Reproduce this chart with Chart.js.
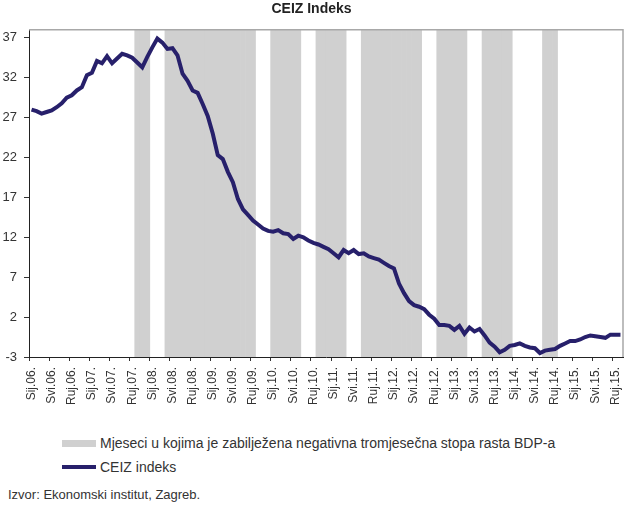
<!DOCTYPE html>
<html lang="hr">
<head>
    <meta charset="UTF-8">
    <title>CEIZ Indeks</title>
    <script src="https://cdn.jsdelivr.net/npm/chart.js@4/dist/chart.umd.min.js"></script>
    <style>
        body {
            margin: 0;
            width: 625px;
            height: 507px;
            background: #fff;
            font-family: "Liberation Sans Narrow", "Liberation Sans", Arial, sans-serif;
            color: #333;
            position: relative;
        }
        #chart {
            position: absolute;
            left: 0;
            top: 0;
        }
        .legend-row {
            position: absolute;
            left: 62px;
            height: 18px;
            font-size: 14px;
            line-height: 18px;
            white-space: nowrap;
        }
        .swatch {
            position: absolute;
            left: 0;
            width: 34px;
        }
        .legend-row span.txt {
            position: absolute;
            left: 38px;
            top: 0;
        }
        #source {
            position: absolute;
            left: 8px;
            top: 487px;
            font-size: 13px;
            line-height: 16px;
            white-space: nowrap;
        }
    </style>
</head>
<body>
    <canvas id="chart" width="625" height="410"></canvas>

    <div class="legend-row" style="top:434px">
        <div class="swatch" style="top:6px;height:7px;background:#d0d0d0"></div>
        <span class="txt">Mjeseci u kojima je zabilježena negativna tromjesečna stopa rasta BDP-a</span>
    </div>
    <div class="legend-row" style="top:458px">
        <div class="swatch" style="top:7px;height:4px;background:#27206b"></div>
        <span class="txt">CEIZ indeks</span>
    </div>
    <div id="source">Izvor: Ekonomski institut, Zagreb.</div>

    <script>
        // month names used in the axis labels (Sij.06. ... Lis.15.)
        const monthNames = ['Sij', 'Velj', 'Ožu', 'Tra', 'Svi', 'Lip', 'Srp', 'Kol', 'Ruj', 'Lis', 'Stu', 'Pro'];
        const years = ['06', '07', '08', '09', '10', '11', '12', '13', '14', '15'];
        const lastMonthOfLastYear = 10; // data ends in October 2015

        const months = [];
        years.forEach((yy, yi) => {
            monthNames.forEach((m, mi) => {
                if (yi === years.length - 1 && mi >= lastMonthOfLastYear) return;
                months.push(m + '.' + yy + '.');
            });
        });

        // CEIZ index, monthly
        const ceizIndex = [
            28.0, 27.8, 27.5, 27.7, 27.9, 28.3, 28.8, 29.5, 29.8, 30.4,
            30.8, 32.3, 32.6, 34.1, 33.8, 34.7, 33.8, 34.4, 35.0, 34.8,
            34.5, 33.9, 33.3, 34.6, 35.8, 36.9, 36.4, 35.6, 35.7, 34.8,
            32.5, 31.6, 30.4, 30.1, 28.7, 27.2, 25.0, 22.3, 21.8, 20.2,
            18.9, 16.8, 15.5, 14.8, 14.1, 13.6, 13.1, 12.8, 12.7, 12.9,
            12.5, 12.4, 11.8, 12.2, 12.0, 11.6, 11.3, 11.1, 10.8, 10.5,
            10.0, 9.5, 10.4, 10.0, 10.4, 9.9, 10.0, 9.6, 9.4, 9.2,
            8.8, 8.4, 8.1, 6.2, 5.0, 4.0, 3.5, 3.3, 3.0, 2.3,
            1.8, 1.0, 1.0, 0.9, 0.4, 0.9, -0.1, 0.7, 0.2, 0.5,
            -0.3, -1.2, -1.7, -2.4, -2.1, -1.6, -1.5, -1.3, -1.6, -1.8,
            -1.9, -2.5, -2.2, -2.1, -2.0, -1.6, -1.3, -1.0, -1.0, -0.8,
            -0.5, -0.3, -0.4, -0.5, -0.6, -0.2, -0.2, -0.2
        ];

        // periods with negative quarterly GDP growth (first and last month)
        const negativeGdpPeriods = [
            ['Lis.07.', 'Pro.07.'],
            ['Tra.08.', 'Ruj.09.'],
            ['Sij.10.', 'Lip.10.'],
            ['Lis.10.', 'Ožu.11.'],
            ['Srp.11.', 'Lip.12.'],
            ['Lis.12.', 'Ožu.13.'],
            ['Srp.13.', 'Pro.13.'],
            ['Srp.14.', 'Ruj.14.']
        ];

        const yTicks = [-3, 2, 7, 12, 17, 22, 27, 32, 37];
        const yMin = -3;
        const yMax = 38;

        // full-height bars for shaded months
        const shadeData = months.map((m, i) => {
            const inside = negativeGdpPeriods.some(p => i >= months.indexOf(p[0]) && i <= months.indexOf(p[1]));
            return inside ? [yMin, yMax] : null;
        });

        const frameLines = {
            id: 'frameLines',
            afterDatasetsDraw(chart) {
                const { ctx, chartArea: a } = chart;
                ctx.save();
                ctx.strokeStyle = '#a8a8a8';
                ctx.lineWidth = 1.5;
                ctx.beginPath();
                ctx.moveTo(a.left, a.top);
                ctx.lineTo(a.right, a.top);
                ctx.lineTo(a.right, a.bottom);
                ctx.stroke();
                ctx.restore();
            }
        };

        new Chart(document.getElementById('chart'), {
            type: 'bar',
            data: {
                labels: months,
                datasets: [
                    {
                        type: 'line',
                        label: 'CEIZ indeks',
                        data: ceizIndex,
                        borderColor: '#27206b',
                        borderWidth: 4,
                        pointRadius: 0,
                        tension: 0,
                        order: 0
                    },
                    {
                        label: 'Mjeseci u kojima je zabilježena negativna tromjesečna stopa rasta BDP-a',
                        data: shadeData,
                        backgroundColor: '#d0d0d0',
                        borderWidth: 0,
                        barPercentage: 1,
                        categoryPercentage: 1,
                        order: 1
                    }
                ]
            },
            options: {
                responsive: false,
                animation: false,
                layout: { padding: { left: 0, right: 2, top: 0, bottom: 0 } },
                plugins: {
                    legend: { display: false },
                    tooltip: { enabled: false },
                    title: {
                        display: true,
                        text: 'CEIZ Indeks',
                        color: '#222',
                        font: { family: '"Liberation Sans Narrow", "Liberation Sans", Arial', size: 14, weight: 'bold' },
                        padding: { top: 1, bottom: 12 }
                    }
                },
                scales: {
                    x: {
                        offset: true,
                        grid: {
                            offset: true,
                            drawOnChartArea: false,
                            tickLength: 4,
                            tickColor: ctx => (ctx.index % 4 === 0 ? '#333' : 'rgba(0,0,0,0)')
                        },
                        border: { display: true, color: '#222', width: 1 },
                        ticks: {
                            autoSkip: false,
                            minRotation: 90,
                            maxRotation: 90,
                            padding: 6,
                            color: '#333',
                            font: { family: '"Liberation Sans", Arial', size: 12 },
                            callback: function (value, index) {
                                return index % 4 === 0 ? this.getLabelForValue(value) : '';
                            }
                        },
                        afterFit(scale) {
                            scale.height = 53;
                            scale.paddingLeft = 0;
                            scale.paddingRight = 0;
                        }
                    },
                    y: {
                        min: yMin,
                        max: yMax,
                        grid: {
                            drawOnChartArea: false,
                            tickLength: 5,
                            tickColor: '#333'
                        },
                        border: { display: true, color: '#222', width: 1 },
                        ticks: {
                            padding: 7,
                            color: '#333',
                            font: { family: '"Liberation Sans", Arial', size: 13 }
                        },
                        afterBuildTicks(scale) {
                            scale.ticks = yTicks.map(v => ({ value: v }));
                        },
                        afterFit(scale) {
                            scale.width = 29;
                            scale.paddingTop = 0;
                            scale.paddingBottom = 0;
                        }
                    }
                }
            },
            plugins: [frameLines]
        });
    </script>
</body>
</html>
